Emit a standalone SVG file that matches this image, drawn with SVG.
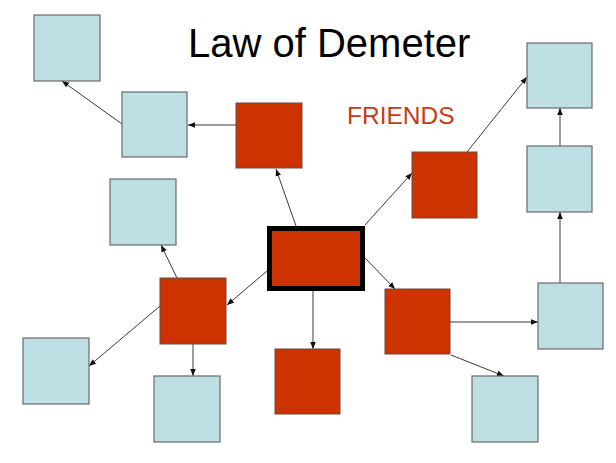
<svg xmlns="http://www.w3.org/2000/svg" width="616" height="463" viewBox="0 0 616 463">
  <style>
    .other { fill: #bddfe3; stroke: #6a6a6a; stroke-width: 1.2; }
    .friend { fill: #cc3300; stroke: #6a4a40; stroke-width: 1; }
    .self { fill: #cc3300; stroke: #000000; stroke-width: 5; }
    .link { stroke: #3a3a3a; stroke-width: 1; fill: none; marker-end: url(#arrow); }
    .title { font-family: "Liberation Sans", Arial, sans-serif; font-size: 40px; fill: #000000; }
    .label { font-family: "Liberation Sans", Arial, sans-serif; font-size: 24.5px; fill: #c63a14; }
  </style>
  <defs>
    <marker id="arrow" viewBox="0 0 10 10" refX="10" refY="5" markerWidth="7" markerHeight="7" markerUnits="userSpaceOnUse" orient="auto">
      <path d="M0,1 L10,5 L0,9 Z" fill="#111111"/>
    </marker>
  </defs>

  <text class="title" x="188" y="57">Law of Demeter</text>
  <text class="label" x="347" y="124">FRIENDS</text>

  <g id="connectors">
    <!-- from the central object to its friends -->
    <line class="link" x1="296" y1="226" x2="276" y2="169"/>
    <line class="link" x1="365" y1="225" x2="412" y2="173"/>
    <line class="link" x1="365" y1="258" x2="395" y2="289"/>
    <line class="link" x1="313" y1="291" x2="313" y2="349"/>
    <line class="link" x1="267" y1="271" x2="227" y2="305"/>
    <!-- from friends to strangers -->
    <line class="link" x1="236" y1="125" x2="188" y2="125"/>
    <line class="link" x1="122" y1="124" x2="62" y2="81"/>
    <line class="link" x1="467" y1="152" x2="527" y2="77"/>
    <line class="link" x1="560" y1="146" x2="560" y2="108"/>
    <line class="link" x1="560" y1="283" x2="560" y2="212"/>
    <line class="link" x1="450" y1="322" x2="538" y2="322"/>
    <line class="link" x1="451" y1="355" x2="504" y2="376"/>
    <line class="link" x1="177" y1="278" x2="161" y2="245"/>
    <line class="link" x1="160" y1="306" x2="89" y2="366"/>
    <line class="link" x1="193" y1="344" x2="193" y2="376"/>
  </g>

  <g id="self"><rect class="self" x="269.5" y="228.5" width="93" height="60"/></g>

  <g id="friend-top"><rect class="friend" x="236" y="103" width="66" height="65"/></g>
  <g id="friend-right"><rect class="friend" x="412" y="152" width="65" height="66"/></g>
  <g id="friend-lower-right"><rect class="friend" x="385" y="289" width="65" height="65"/></g>
  <g id="friend-bottom"><rect class="friend" x="275" y="349" width="65" height="65"/></g>
  <g id="friend-left"><rect class="friend" x="160" y="278" width="66" height="66"/></g>

  <g id="stranger-top-left"><rect class="other" x="34" y="15" width="66" height="66"/></g>
  <g id="stranger-upper-left"><rect class="other" x="122" y="92" width="65" height="65"/></g>
  <g id="stranger-mid-left"><rect class="other" x="110" y="179" width="66" height="66"/></g>
  <g id="stranger-lower-left"><rect class="other" x="23" y="338" width="66" height="66"/></g>
  <g id="stranger-bottom-left"><rect class="other" x="154" y="376" width="66" height="66"/></g>
  <g id="stranger-top-right"><rect class="other" x="527" y="43" width="65" height="65"/></g>
  <g id="stranger-upper-right"><rect class="other" x="527" y="146" width="65" height="66"/></g>
  <g id="stranger-right"><rect class="other" x="538" y="283" width="65" height="66"/></g>
  <g id="stranger-bottom-right"><rect class="other" x="472" y="376" width="66" height="66"/></g>
</svg>
